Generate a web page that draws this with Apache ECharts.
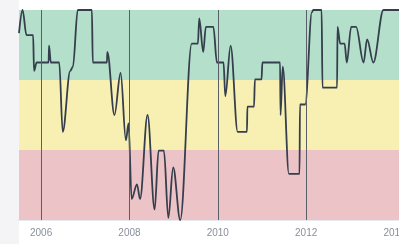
<!DOCTYPE html>
<html>
<head>
<meta charset="utf-8">
<script src="https://cdn.jsdelivr.net/npm/echarts@6/dist/echarts.min.js"></script>
<style>
  html, body { margin: 0; padding: 0; background: #ffffff; overflow: hidden; width: 399px; height: 244px; }
  #side { position: absolute; left: 0; top: 0; width: 19px; height: 244px; background: #f4f4f6; }
  #chart { position: absolute; left: 0; top: 0; width: 440px; height: 244px; }
</style>
</head>
<body>
<div id="side"></div>
<div id="chart"></div>
<script>
// time in decimal years, score 0..100
const years = [
  2005.50, 2005.58, 2005.67, 2005.82, 2005.84, 2005.90, 2006.17, 2006.18, 2006.22, 2006.41,
  2006.49, 2006.66, 2006.72, 2006.83, 2007.15, 2007.17, 2007.49, 2007.50, 2007.66, 2007.80,
  2007.92, 2007.98, 2008.05, 2008.17, 2008.24, 2008.41, 2008.57, 2008.66, 2008.78, 2008.88,
  2008.99, 2009.15, 2009.41, 2009.55, 2009.58, 2009.67, 2009.73, 2009.90, 2009.98, 2010.13,
  2010.17, 2010.29, 2010.45, 2010.66, 2010.67, 2010.82, 2010.84, 2010.99, 2011.01, 2011.41,
  2011.42, 2011.47, 2011.61, 2011.85, 2011.86, 2011.98, 2012.13, 2012.16, 2012.35, 2012.37,
  2012.70, 2012.71, 2012.77, 2012.87, 2012.92, 2013.02, 2013.13, 2013.30, 2013.38, 2013.52,
  2013.75, 2014.40
]
const scores = [
  89, 100, 88, 88, 71, 75, 75, 83, 75, 75,
  42, 71, 73, 100, 100, 75, 75, 80, 50, 70,
  38, 46, 10, 17, 10, 50, 5, 33, 33, 1,
  25, 0, 84, 84, 96, 80, 92, 92, 75, 75,
  59, 83, 42, 42, 54, 54, 67, 67, 75, 75,
  50, 73, 22, 22, 55, 55, 99, 100, 100, 63,
  63, 92, 84, 84, 75, 92, 92, 75, 86, 75,
  100, 100
]
const yearMarks = [2006, 2008, 2010, 2012]
const yearLabels = [2006, 2008, 2010, 2012, 2014]
const bands = [
  { from: 66.67, to: 100, color: '#b4dfca' },
  { from: 33.33, to: 66.67, color: '#f8f0b2' },
  { from: 0, to: 33.33, color: '#ecc3c6' },
]

const chart = echarts.init(document.getElementById('chart'), null, { width: 440, height: 244 })
chart.setOption({
  animation: false,
  grid: { left: 19, width: 421, top: 10, bottom: 24 },
  xAxis: {
    type: 'value', min: 2005.5, max: 2015.03,
    axisLine: { show: true, lineStyle: { color: '#e8eaee', width: 2 } },
    axisTick: { show: false },
    splitLine: { show: false },
    axisLabel: {
      customValues: yearLabels, formatter: v => String(v),
      fontFamily: 'Liberation Sans', fontSize: 10, color: '#8a8f98', margin: 8,
    },
  },
  yAxis: {
    type: 'value', min: 0, max: 100,
    axisLine: { show: false }, axisTick: { show: false },
    axisLabel: { show: false }, splitLine: { show: false },
  },
  series: [{
    type: 'line',
    data: years.map((y, i) => [y, scores[i]]),
    smooth: 0.35, smoothMonotone: 'x',
    showSymbol: false,
    lineStyle: { color: '#343e4c', width: 1.8 },
    markArea: {
      silent: true,
      data: bands.map(b => [
        { yAxis: b.from, itemStyle: { color: b.color } },
        { yAxis: b.to },
      ]),
    },
    markLine: {
      silent: true, symbol: 'none', label: { show: false },
      lineStyle: { color: '#5a5e66', width: 1, type: 'solid' },
      data: yearMarks.map(y => ({ xAxis: y })),
    },
  }],
})
</script>
</body>
</html>
